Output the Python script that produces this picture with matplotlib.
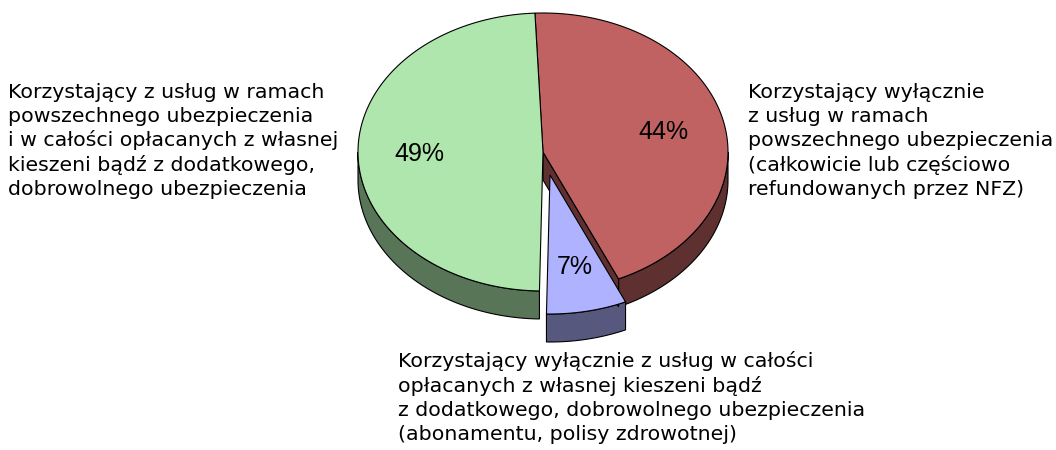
import numpy as np
import matplotlib
matplotlib.use("Agg")
import matplotlib.pyplot as plt
from matplotlib.patches import Polygon

# ---- data ----
categories = [
    "Korzystający wyłącznie\nz usług w ramach\npowszechnego ubezpieczenia\n(całkowicie lub częściowo\nrefundowanych przez NFZ)",
    "Korzystający wyłącznie z usług w całości\nopłacanych z własnej kieszeni bądź\nz dodatkowego, dobrowolnego ubezpieczenia\n(abonamentu, polisy zdrowotnej)",
    "Korzystający z usług w ramach\npowszechnego ubezpieczenia\ni w całości opłacanych z własnej\nkieszeni bądź z dodatkowego,\ndobrowolnego ubezpieczenia",
]
values = [44, 7, 49]
pct_labels = ["44%", "7%", "49%"]
exploded = [False, True, False]

top_colors = ["#C06262", "#AEB2FF", "#AEE6AE"]
side_colors = ["#5F3030", "#56587E", "#587558"]

# ---- layout ----
cx, cy = 543.0, 152.0
rx, ry = 185.0, 139.0
depth = 28.0
explode_off = (7.0, 23.0)
start_angle = 92.5
lw = 0.8
PCT_FONT = ["Liberation Sans", "DejaVu Sans"]
CAT_FONT = ["DejaVu Sans"]

fig = plt.figure(figsize=(10.56, 4.5), dpi=100)
ax = fig.add_axes([0, 0, 1, 1])
ax.set_xlim(0, 1056)
ax.set_ylim(450, 0)
ax.axis("off")


def rim(a0, a1, ox, oy, dz=0.0, n=200):
    t = np.radians(np.linspace(a0, a1, n))
    return np.column_stack([cx + ox + rx * np.cos(t), cy + oy + dz - ry * np.sin(t)])


total = float(sum(values))
spans = []
a = start_angle
for v in values:
    a_end = a - 360.0 * v / total
    spans.append((a_end, a))  # ccw from a_end to a
    a = a_end

offsets = [explode_off if e else (0.0, 0.0) for e in exploded]

# side walls (outer rim, visible lower half: angles 180..360)
for (a0, a1), (ox, oy), sc in zip(spans, offsets, side_colors):
    lo, hi = a0 % 360, a0 % 360 + (a1 - a0)
    for base in (-360, 0, 360):
        v0 = max(lo, 180 + base)
        v1 = min(hi, 360 + base)
        if v1 > v0:
            top = rim(v0, v1, ox, oy)
            bot = rim(v1, v0, ox, oy, depth)
            ax.add_patch(Polygon(np.vstack([top, bot]), closed=True,
                                 facecolor=sc, edgecolor="black", lw=lw, zorder=1))

# radial side face of the first (red) slice exposed by the exploded slice
a_r = np.radians(spans[0][0])
p_rim = (cx + rx * np.cos(a_r), cy - ry * np.sin(a_r))
face = [(cx, cy), p_rim, (p_rim[0], p_rim[1] + depth), (cx, cy + depth)]
ax.add_patch(Polygon(face, closed=True, facecolor=side_colors[0],
                     edgecolor="black", lw=lw, zorder=2))

# top faces
for (a0, a1), (ox, oy), tc, ex in zip(spans, offsets, top_colors, exploded):
    pts = np.vstack([[cx + ox, cy + oy], rim(a0, a1, ox, oy)])
    ax.add_patch(Polygon(pts, closed=True, facecolor=tc, edgecolor="black",
                         lw=lw, zorder=4 if ex else 3))

# percent labels
r_lab = 0.67
for (a0, a1), (ox, oy), lab in zip(spans, offsets, pct_labels):
    m = np.radians((a0 + a1) / 2)
    ax.text(cx + ox + r_lab * rx * np.cos(m), cy + oy + 1 - r_lab * ry * np.sin(m), lab,
            ha="center", va="center", fontsize=18, family=PCT_FONT, zorder=5)

# category labels (x, first baseline)
label_pos = [(748, 97.7), (398, 367.3), (8, 97.7)]
line_h = 24.3
for text, (x, y) in zip(categories, label_pos):
    for i, line in enumerate(text.split("\n")):
        ax.text(x, y + i * line_h, line, ha="left", va="baseline", fontsize=14.75,
                family=CAT_FONT, zorder=5)

fig.savefig("out.png", dpi=100)
